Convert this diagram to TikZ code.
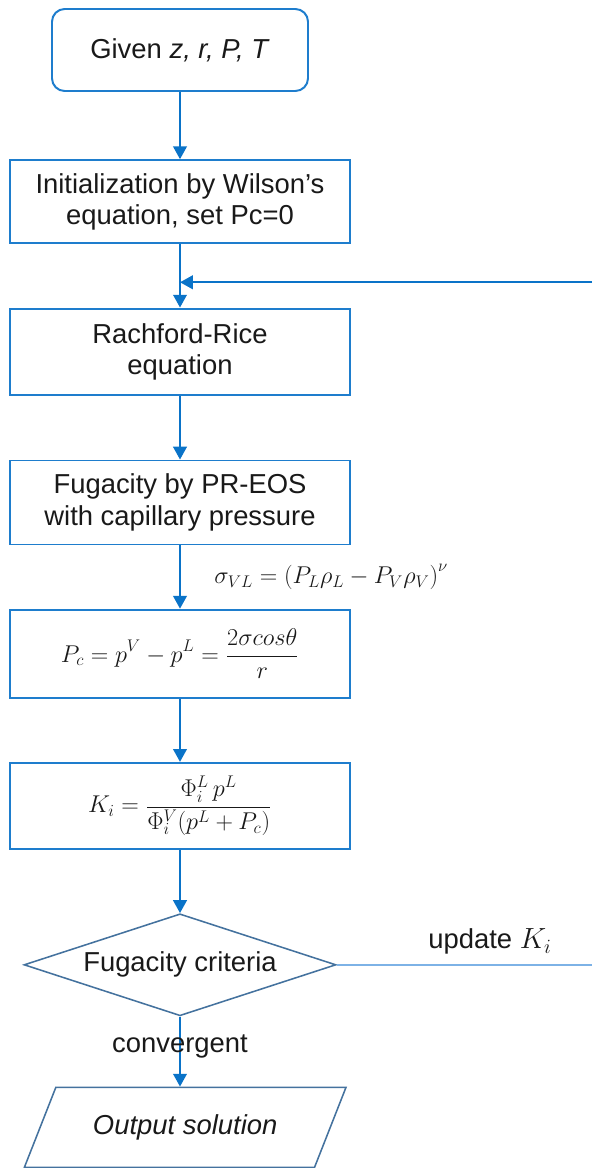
\documentclass[tikz,border=0pt]{standalone}
\usepackage{fontspec}
\setmainfont{Liberation Sans}
\usetikzlibrary{arrows.meta,calc,positioning,shapes.geometric}
\definecolor{boxblue}{RGB}{30,125,205}
\definecolor{flowblue}{RGB}{10,115,200}
\definecolor{shapeblue}{RGB}{68,114,158}
\definecolor{paleblue}{RGB}{125,178,230}
\definecolor{inkblack}{RGB}{25,25,25}
\newcommand{\chartfont}{\fontsize{19.5}{22.5}\selectfont}
\newcommand{\eqfont}{\fontsize{16.5}{20}\selectfont}
\tikzset{
  term/.style={draw=boxblue,line width=1.4pt,rounded corners=9pt,align=center,
    minimum width=6.4cm,minimum height=2.05cm,font=\chartfont,text=inkblack},
  proc/.style={draw=boxblue,line width=1.4pt,align=center,
    minimum width=8.5cm,minimum height=2.1cm,font=\chartfont,text=inkblack},
  eqbox/.style={proc,font=\eqfont},
  decide/.style={draw=shapeblue,line width=1.1pt,diamond,aspect=3,inner sep=0pt,
    minimum width=7.8cm,minimum height=2.55cm,font=\chartfont,text=inkblack},
  io/.style={draw=shapeblue,line width=1.1pt,trapezium,trapezium left angle=56,
    trapezium right angle=124,trapezium stretches=true,
    minimum width=8.05cm,minimum height=2cm,font=\chartfont\itshape,text=inkblack},
  flow/.style={-{Triangle[length=3.2mm,width=3.4mm]},line width=1.4pt,draw=flowblue},
  updline/.style={line width=1.1pt,draw=paleblue},
  lab/.style={font=\chartfont,text=inkblack,inner sep=1pt}
}

\begin{document}
\begin{tikzpicture}[node distance=1.58cm]
  \useasboundingbox (0,0) rectangle (14.8,-29.2);
  \node[term] (given) at (4.5,-1.25) {Given \textit{z, r, P, T}};
  \node[proc,below=1.68cm of given,minimum height=2.08cm] (init) {Initialization by Wilson’s\\equation, set Pc=0};
  \node[proc,below=of init,minimum height=2.17cm] (rr) {Rachford-Rice\\equation};
  \node[proc,below=of rr] (fug) {Fugacity by PR-EOS\\with capillary pressure};
  \node[eqbox,below=of fug,minimum height=2.2cm] (pc) {$\displaystyle P_c=p^V-p^L=\frac{2\sigma cos\theta}{r}$};
  \node[eqbox,below=of pc,minimum height=2.15cm] (ki) {$\displaystyle K_i=\frac{\Phi_i^L\,p^L}{\Phi_i^V\Bigl(p^L+P_c\Bigr)}$};
  \node[decide,below=of ki] (crit) {Fugacity criteria};
  \node[io,below=1.75cm of crit,xshift=0.13cm] (out) {Output solution};
  \coordinate (join) at ($(init.south)!0.6!(rr.north)$);
  \coordinate (edge) at (14.8,0);
  \draw[flow] (given) -- (init);
  \draw[flow] (init) -- (rr);
  \draw[flow] (rr) -- (fug);
  \draw[flow] (fug) -- node[lab,font=\eqfont,right=0.8cm]{$\sigma_{VL}=\bigl(P_L\rho_L-P_V\rho_V\bigr)^{\nu}$} (pc);
  \draw[flow] (pc) -- (ki);
  \draw[flow] (ki) -- (crit);
  \draw[flow] (crit) -- node[lab,pos=0.42]{convergent} (crit |- out.north);
  \draw[updline] (crit.east) -- node[lab,above=0.2cm,pos=0.6]{update $K_i$} (crit.east -| edge);
  \draw[flow] (join -| edge) -- (join);
\end{tikzpicture}
\end{document}
